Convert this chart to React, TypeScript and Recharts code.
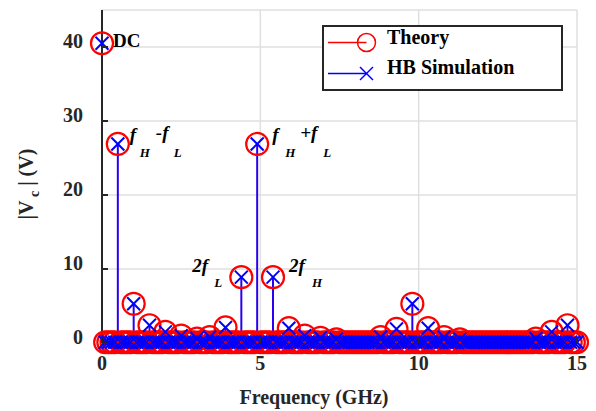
import { ComposedChart, Scatter, XAxis, YAxis, CartesianGrid, ReferenceLine, ReferenceDot } from "recharts"

// frequencies (GHz) of the visible mixing products
const peakFreqs = [0, 0.5, 1.0, 1.5, 2.0, 2.5, 3.0, 3.4, 3.9, 4.4, 4.9, 5.4, 5.9, 6.4, 6.9, 7.4, 8.8, 9.3, 9.8, 10.3, 10.8, 11.3, 13.7, 14.2, 14.7]
const theoryMag = [40.5, 26.9, 5.3, 2.4, 1.5, 1.0, 0.6, 0.8, 2.1, 8.9, 26.9, 8.9, 2.0, 1.0, 0.7, 0.5, 0.8, 1.9, 5.3, 2.0, 0.8, 0.5, 0.6, 1.5, 2.4]
const hbMag = [40.5, 26.9, 5.3, 2.4, 1.5, 1.0, 0.6, 0.8, 2.1, 8.9, 26.9, 8.9, 2.0, 1.0, 0.7, 0.5, 0.8, 1.9, 5.3, 2.0, 0.8, 0.5, 0.6, 1.5, 2.4]

// remaining tones that sit on the noise floor
const floorFreqs = [
  0.1, 0.2, 0.3, 0.4, 0.6, 0.7, 0.8, 0.9, 1.1, 1.2, 1.3, 1.4, 1.6, 1.7, 1.8, 1.9, 2.1, 2.2, 2.3, 2.4,
  2.6, 2.7, 2.8, 2.9, 3.1, 3.2, 3.3, 3.5, 3.6, 3.7, 3.8, 4.0, 4.1, 4.2, 4.3, 4.5, 4.6, 4.7, 4.8, 5.0,
  5.1, 5.2, 5.3, 5.5, 5.6, 5.7, 5.8, 6.0, 6.1, 6.2, 6.3, 6.5, 6.6, 6.7, 6.8, 7.0, 7.1, 7.2, 7.3, 7.5,
  7.6, 7.7, 7.8, 7.9, 8.0, 8.1, 8.2, 8.3, 8.4, 8.5, 8.6, 8.7, 8.9, 9.0, 9.1, 9.2, 9.4, 9.5, 9.6, 9.7,
  9.9, 10.0, 10.1, 10.2, 10.4, 10.5, 10.6, 10.7, 10.9, 11.0, 11.1, 11.2, 11.4, 11.5, 11.6, 11.7, 11.8,
  11.9, 12.0, 12.1, 12.2, 12.3, 12.4, 12.5, 12.6, 12.7, 12.8, 12.9, 13.0, 13.1, 13.2, 13.3, 13.4, 13.5,
  13.6, 13.8, 13.9, 14.0, 14.1, 14.3, 14.4, 14.5, 14.6, 14.8, 14.9, 15.0,
]
const floorMag = 0.1

const xTicks = [0, 5, 10, 15]
const yTicks = [0, 10, 20, 30, 40]

const FONT = "Liberation Serif, Tinos, serif"
const INK = "#262626"

const theoryData = [
  ...floorFreqs.map((f) => ({ f, v: floorMag })),
  ...peakFreqs.map((f, i) => ({ f, v: theoryMag[i] })),
]
const hbData = [
  ...floorFreqs.map((f) => ({ f, v: floorMag })),
  ...peakFreqs.map((f, i) => ({ f, v: hbMag[i] })),
]

// annotation text pieces: [text, dx, dy, size, italic]
const annotations = [
  { f: 0, v: 40.5, parts: [["DC", 11, 4, 19, false]] },
  { f: 0.5, v: 26.9, parts: [["f", 12, -3, 19, true], ["H", 22, 13, 13, true], ["-f", 38, -5, 19, true], ["L", 56, 13, 13, true]] },
  { f: 4.9, v: 26.9, parts: [["f", 15, -3, 19, true], ["H", 28, 13, 13, true], ["+f", 43, -5, 19, true], ["L", 66, 13, 13, true]] },
  { f: 4.4, v: 8.9, parts: [["2f", -49, -5, 19, true], ["L", -27, 10, 13, true]] },
  { f: 5.4, v: 8.9, parts: [["2f", 16, -5, 19, true], ["H", 39, 10, 13, true]] },
]

const CircleMark = (props: any) => (
  <circle cx={props.cx} cy={props.cy} r={11} fill="none" stroke="#ff0000" strokeWidth={2.2} />
)

const CrossMark = (props: any) => {
  const { cx, cy } = props
  const s = 6.5
  return (
    <g stroke="#0000ff" strokeWidth={2}>
      <line x1={cx - s} y1={cy - s} x2={cx + s} y2={cy + s} />
      <line x1={cx - s} y1={cy + s} x2={cx + s} y2={cy - s} />
    </g>
  )
}

const BottomTick = ({ x, y, payload }: any) => (
  <g>
    <line x1={x} y1={y} x2={x} y2={y - 6} stroke={INK} strokeWidth={2} />
    <text x={x} y={y + 27} textAnchor="middle" fontFamily={FONT} fontWeight="bold" fontSize={20} fill={INK}>
      {payload.value}
    </text>
  </g>
)

const TopTick = ({ x, y }: any) => <line x1={x} y1={y} x2={x} y2={y + 6} stroke={INK} strokeWidth={2} />

const LeftTick = ({ x, y, payload }: any) => (
  <g>
    <line x1={x} y1={y} x2={x + 6} y2={y} stroke={INK} strokeWidth={2} />
    <text x={x - 19} y={y + 1} textAnchor="end" fontFamily={FONT} fontWeight="bold" fontSize={20} fill={INK}>
      {payload.value}
    </text>
  </g>
)

const RightTick = ({ x, y }: any) => <line x1={x} y1={y} x2={x - 6} y2={y} stroke={INK} strokeWidth={2} />

const makeAnno = (parts: any[]) => (props: any) => {
  const vb = props.viewBox
  const cx = vb.x + vb.width / 2
  const cy = vb.y + vb.height / 2
  return (
    <g>
      {parts.map((p, i) => (
        <text
          key={i}
          x={cx + p[1]}
          y={cy + p[2]}
          fontFamily={FONT}
          fontWeight="bold"
          fontStyle={p[4] ? "italic" : "normal"}
          fontSize={p[3]}
          fill="#000"
        >
          {p[0]}
        </text>
      ))}
    </g>
  )
}

const YLabel = () => (
  <text
    x={33}
    y={184}
    transform="rotate(-90, 33, 184)"
    textAnchor="middle"
    fontFamily={FONT}
    fontWeight="bold"
    fontSize={20}
    fill={INK}
  >
    |V<tspan dy={6} fontSize={14}> c</tspan>
    <tspan dy={-6}> | (V)</tspan>
  </text>
)

function Legend() {
  return (
    <div style={{ position: "absolute", left: 322, top: 25, width: 241, height: 66 }}>
      <svg width={241} height={66}>
        <rect x={1} y={1} width={239} height={64} fill="#fff" stroke={INK} strokeWidth={2} />
        <line x1={6} y1={17.5} x2={44.5} y2={17.5} stroke="#ff0000" strokeWidth={1.5} />
        <circle cx={44.5} cy={17.5} r={9} fill="none" stroke="#ff0000" strokeWidth={1.5} />
        <line x1={6} y1={48.5} x2={44.5} y2={48.5} stroke="#0000ff" strokeWidth={1.5} />
        <g stroke="#0000ff" strokeWidth={1.5}>
          <line x1={38} y1={42} x2={51} y2={55} />
          <line x1={38} y1={55} x2={51} y2={42} />
        </g>
        <text x={65} y={18.5} fontFamily={FONT} fontWeight="bold" fontSize={20} fill="#000">Theory</text>
        <text x={65} y={48.5} fontFamily={FONT} fontWeight="bold" fontSize={20} fill="#000">HB Simulation</text>
      </svg>
    </div>
  )
}

export default function App() {
  return (
    <div style={{ position: "absolute", left: 0, top: 0, width: 596, height: 411, background: "#fff" }}>
      <ComposedChart width={596} height={411} margin={{ top: 10, right: 19, bottom: 28, left: 42 }}>
        <CartesianGrid stroke="#dfdfdf" strokeWidth={1.5} />
        <XAxis
          xAxisId="top"
          orientation="top"
          dataKey="f"
          type="number"
          domain={[0, 15]}
          ticks={[5, 10]}
          height={0}
          tickSize={0}
          tickMargin={0}
          tickLine={false}
          axisLine={{ stroke: INK, strokeWidth: 2 }}
          tick={<TopTick />}
          interval={0}
        />
        <YAxis
          yAxisId={0}
          type="number"
          domain={[0, 45]}
          ticks={yTicks}
          width={60}
          tickSize={0}
          tickMargin={0}
          tickLine={false}
          axisLine={{ stroke: INK, strokeWidth: 2 }}
          tick={<LeftTick />}
          interval={0}
          label={<YLabel />}
        />
        <YAxis
          yAxisId="right"
          orientation="right"
          type="number"
          domain={[0, 45]}
          ticks={[10, 20, 30, 40]}
          width={0}
          tickSize={0}
          tickMargin={0}
          tickLine={false}
          axisLine={{ stroke: INK, strokeWidth: 2 }}
          tick={<RightTick />}
          interval={0}
        />
        {peakFreqs.map((f, i) => (
          <ReferenceLine
            key={"stem" + i}
            segment={[{ x: f, y: 0 }, { x: f, y: hbMag[i] }]}
            stroke="#2a00f0"
            strokeWidth={2}
          />
        ))}
        <Scatter data={theoryData} dataKey="v" shape={<CircleMark />} isAnimationActive={false} />
        <Scatter data={hbData} dataKey="v" shape={<CrossMark />} isAnimationActive={false} />
        <XAxis
          xAxisId={0}
          dataKey="f"
          type="number"
          domain={[0, 15]}
          ticks={xTicks}
          height={40}
          tickSize={0}
          tickMargin={0}
          tickLine={false}
          axisLine={{ stroke: INK, strokeWidth: 2 }}
          tick={<BottomTick />}
          interval={0}
        />
        {annotations.map((a, i) => (
          <ReferenceDot
            key={"anno" + i}
            x={a.f}
            y={a.v}
            r={1}
            fill="none"
            stroke="none"
            label={makeAnno(a.parts)}
          />
        ))}
      </ComposedChart>
      <div
        style={{
          position: "absolute",
          left: 0,
          top: 387,
          width: 596,
          paddingLeft: 32,
          boxSizing: "border-box",
          textAlign: "center",
          fontFamily: FONT,
          fontWeight: "bold",
          fontSize: 20,
          color: INK,
          lineHeight: "20px",
        }}
      >
        Frequency (GHz)
      </div>
      <Legend />
    </div>
  )
}
